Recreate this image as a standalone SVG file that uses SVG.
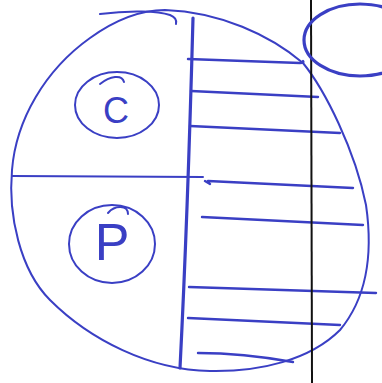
<svg xmlns="http://www.w3.org/2000/svg" width="382" height="383" viewBox="0 0 382 383">
<style>
.pen{fill:none;stroke:#3a3fc4;stroke-linecap:round;stroke-linejoin:round}
.thin{stroke-width:2}
.mid{stroke-width:2.4}
.thick{stroke-width:3.2}
.lbl{font-family:"Liberation Sans",Arial,sans-serif;fill:#3a3fc4;text-anchor:middle}
</style>
<rect width="382" height="383" fill="#ffffff"/>
<g id="cell">
<path class="pen thin" d="M 165,10 C 220,12 270,35 303,63 C 325,90 355,150 366,205 C 374,260 365,300 340,330 C 310,360 260,372 210,371 C 150,370 90,340 50,300 C 20,270 8,215 12,170 C 16,120 45,70 90,38 C 115,20 140,10 165,10 Z"/>
<path class="pen thin" d="M 100,14 C 130,10 158,11 170,15 C 175,17 177,20 176,24"/>
</g>
<g id="connectors">
<path class="pen thick" d="M 193,18 C 190,130 186,250 180,368"/>
<path class="pen thin" d="M 12,176 L 203,177"/>
<path class="pen mid" d="M 188,59 L 300,63 C 303,63 304,62 303,61"/>
<path class="pen mid" d="M 191,91 L 318,97"/>
<path class="pen mid" d="M 190,126 L 340,133"/>
<path class="pen mid" d="M 205,181 L 210,184 M 208,181 L 353,188"/>
<path class="pen mid" d="M 202,217 L 363,225"/>
<path class="pen mid" d="M 189,287 L 376,293"/>
<path class="pen mid" d="M 188,318 L 340,325"/>
<path class="pen mid" d="M 198,353 C 230,353 265,357 293,362"/>
<path d="M 311,0 L 312,383" fill="none" stroke="#111111" stroke-width="2"/>
</g>
<g id="node-c">
<ellipse class="pen thin" cx="117" cy="105" rx="42" ry="33"/>
<path class="pen thin" d="M 100,84 C 110,76 122,74 124,82"/>
<text class="lbl" x="116" y="123" font-size="36">C</text>
</g>
<g id="node-p">
<ellipse class="pen thin" cx="112" cy="244" rx="43" ry="39"/>
<path class="pen thin" d="M 108,213 C 115,205 128,205 128,214"/>
<text class="lbl" x="112" y="260" font-size="52">P</text>
</g>
<g id="node-right">
<ellipse class="pen thick" cx="360" cy="40" rx="56" ry="36"/>
</g>
</svg>
